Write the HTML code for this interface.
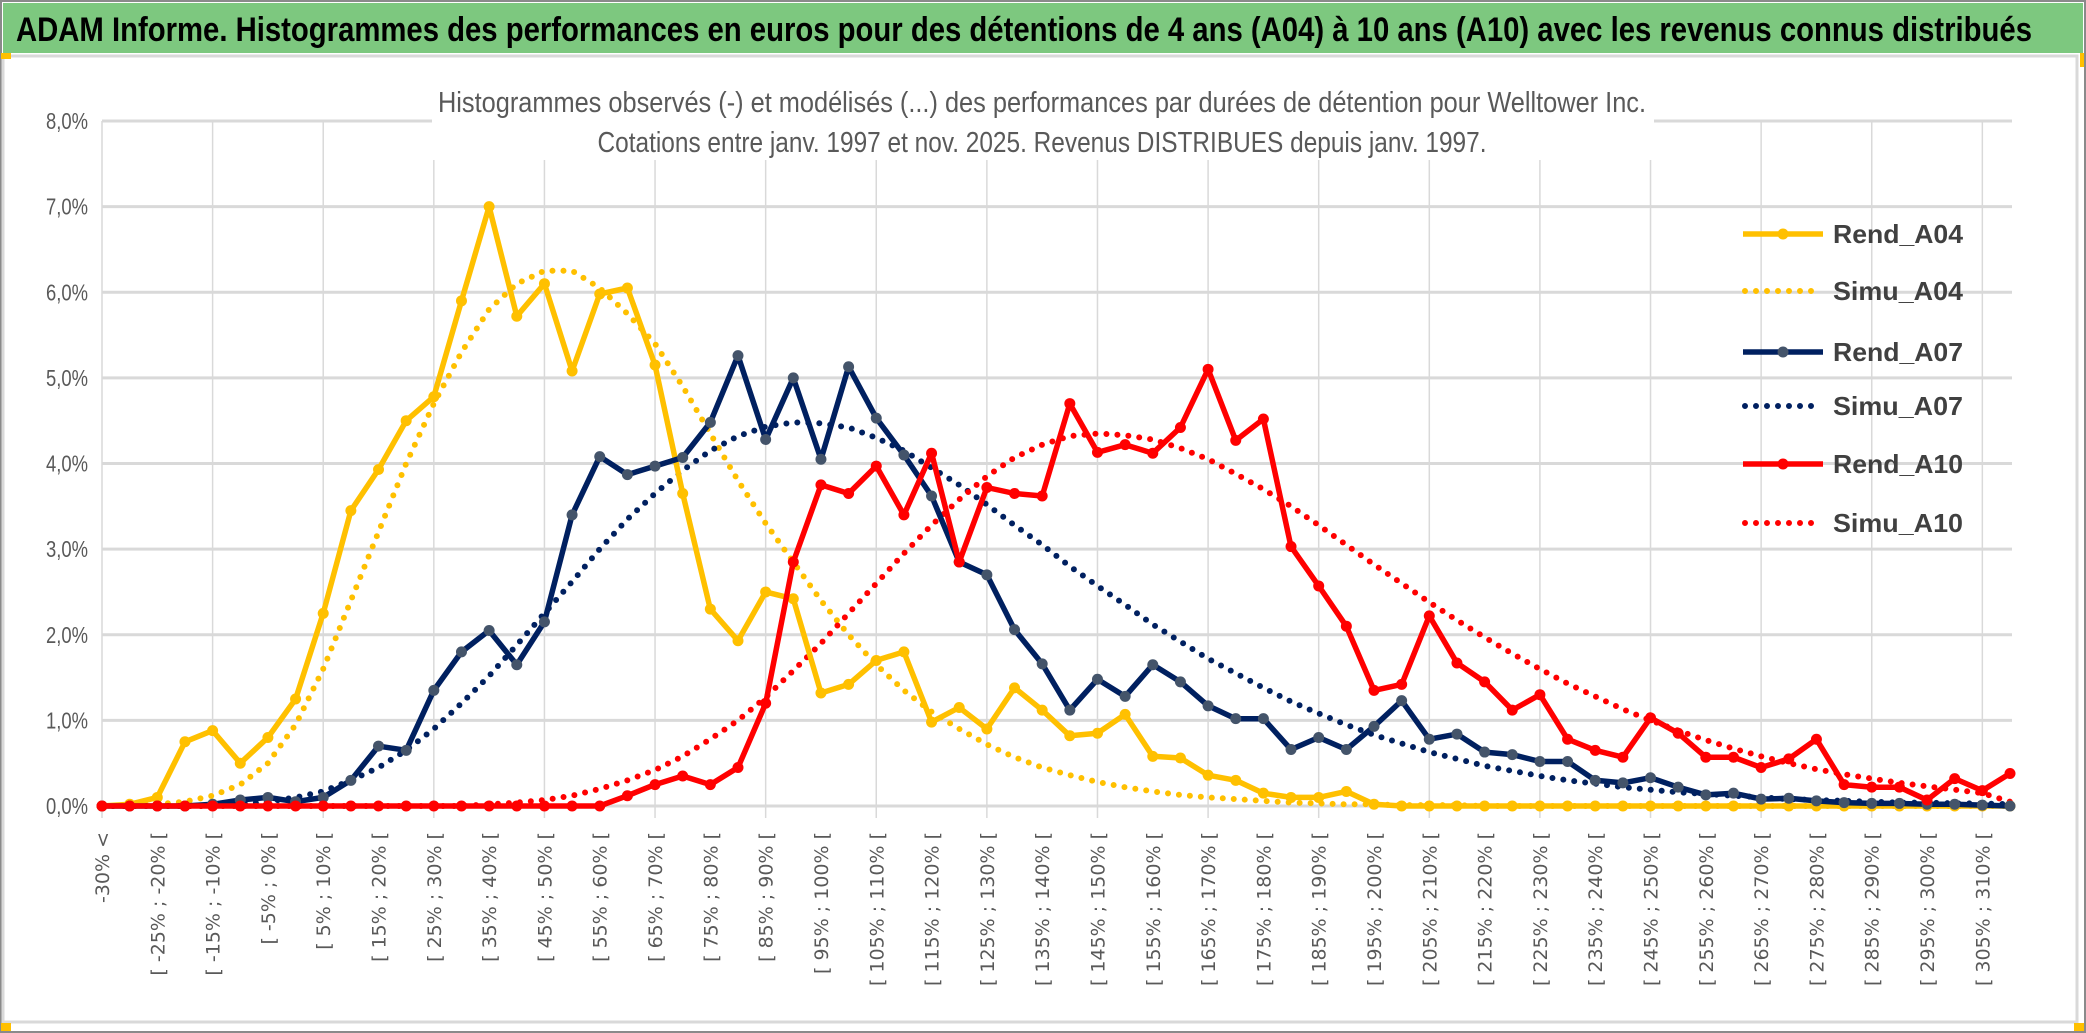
<!DOCTYPE html>
<html><head><meta charset="utf-8">
<style>
html,body{margin:0;padding:0;background:#fff;}
svg{display:block;}
</style></head>
<body>
<svg id="chart" width="2086" height="1033" viewBox="0 0 2086 1033" xmlns="http://www.w3.org/2000/svg">
  <rect x="0" y="0" width="2086" height="1033" fill="#fff"/>
  <rect x="1" y="1" width="2084" height="1031" fill="none" stroke="#8a8a8a" stroke-width="2"/>
  <rect x="3" y="3" width="2080" height="50" fill="#7DC87F"/>
  <text x="16" y="41" font-family="'Liberation Sans Narrow','Liberation Sans',sans-serif" font-weight="bold" font-size="34" fill="#000" textLength="2016" lengthAdjust="spacingAndGlyphs">ADAM Informe. Histogrammes des performances en euros pour des détentions de 4 ans (A04) à 10 ans (A10) avec les revenus connus distribués</text>
  <rect x="3" y="56" width="2074" height="966" fill="#fff" stroke="#d9d9d9" stroke-width="3"/>
  <rect x="1" y="53" width="10" height="6" fill="#FFC000"/>
  <rect x="1" y="1023" width="10" height="8" fill="#FFC000"/>
  <rect x="2074" y="1023" width="10" height="8" fill="#FFC000"/>
  <rect x="2080" y="53" width="4" height="14" fill="#FFC000"/>
  <g id="grid"></g>
  <g id="yaxis"></g>
  <g id="xaxis"></g>
  <rect x="432" y="76" width="1222" height="84" fill="#fff"/>
  <text x="1042" y="112" text-anchor="middle" font-family="'Liberation Sans Narrow','Liberation Sans',sans-serif" font-size="29" fill="#595959" textLength="1208" lengthAdjust="spacingAndGlyphs">Histogrammes observés (-) et modélisés (...) des performances par durées de détention pour Welltower Inc.</text>
  <text x="1042" y="152" text-anchor="middle" font-family="'Liberation Sans Narrow','Liberation Sans',sans-serif" font-size="29" fill="#595959" textLength="889" lengthAdjust="spacingAndGlyphs">Cotations entre janv. 1997 et nov. 2025. Revenus DISTRIBUES depuis janv. 1997.</text>
  <g id="series"></g>
  <g id="legend"></g>
</svg>
<script>
const rendA04 = [0,0.02,0.1,0.75,0.88,0.5,0.8,1.25,2.25,3.45,3.93,4.5,4.78,5.9,7.0,5.72,6.1,5.08,5.98,6.05,5.15,3.65,2.3,1.93,2.5,2.42,1.32,1.42,1.7,1.8,0.98,1.15,0.9,1.38,1.12,0.82,0.85,1.07,0.58,0.56,0.36,0.3,0.15,0.1,0.1,0.17,0.02,0,0,0,0,0,0,0,0,0,0,0,0,0,0,0,0,0,0,0,0,0,0,0];
const simuA04 = [0,0,0.02,0.05,0.12,0.25,0.5,0.95,1.6,2.4,3.2,4.0,4.7,5.3,5.8,6.1,6.25,6.25,6.05,5.75,5.4,4.9,4.35,3.8,3.3,2.85,2.4,2.0,1.65,1.35,1.1,0.9,0.72,0.57,0.45,0.36,0.28,0.22,0.17,0.13,0.1,0.08,0.06,0.04,0.03,0.02,0.02,0.01,0.01,0.01,0,0,0,0,0,0,0,0,0,0,0,0,0,0,0,0,0,0,0,0];
const rendA07 = [0,0,0,0,0.02,0.07,0.1,0.05,0.1,0.3,0.7,0.65,1.35,1.8,2.05,1.65,2.15,3.4,4.08,3.87,3.97,4.07,4.48,5.26,4.28,5.0,4.05,5.13,4.53,4.1,3.62,2.85,2.7,2.06,1.66,1.12,1.48,1.28,1.65,1.45,1.17,1.02,1.02,0.66,0.8,0.66,0.93,1.23,0.78,0.84,0.63,0.6,0.52,0.52,0.3,0.27,0.33,0.22,0.13,0.15,0.08,0.09,0.06,0.04,0.03,0.03,0.02,0.02,0.01,0];
const simuA07 = [0,0,0,0,0,0.02,0.05,0.1,0.17,0.3,0.45,0.65,0.9,1.2,1.52,1.88,2.25,2.62,3.0,3.35,3.65,3.92,4.15,4.32,4.43,4.48,4.47,4.42,4.3,4.15,3.95,3.75,3.52,3.28,3.05,2.8,2.57,2.35,2.12,1.92,1.72,1.55,1.38,1.22,1.08,0.95,0.83,0.73,0.63,0.55,0.47,0.41,0.35,0.3,0.26,0.22,0.19,0.16,0.14,0.12,0.1,0.08,0.07,0.06,0.05,0.04,0.04,0.03,0.03,0.02];
const rendA10 = [0,0,0,0,0,0,0,0,0,0,0,0,0,0,0,0,0,0,0,0.12,0.25,0.35,0.25,0.45,1.2,2.85,3.75,3.65,3.97,3.4,4.12,2.85,3.72,3.65,3.62,4.7,4.13,4.22,4.12,4.42,5.1,4.27,4.52,3.03,2.57,2.1,1.35,1.42,2.22,1.67,1.45,1.12,1.3,0.78,0.65,0.57,1.03,0.85,0.57,0.57,0.45,0.55,0.78,0.25,0.22,0.22,0.07,0.32,0.18,0.38];
const simuA10 = [0,0,0,0,0,0,0,0,0,0,0,0,0,0,0.02,0.04,0.07,0.12,0.2,0.3,0.42,0.58,0.78,1.0,1.27,1.58,1.9,2.25,2.6,2.95,3.28,3.58,3.85,4.07,4.22,4.32,4.35,4.33,4.28,4.18,4.05,3.88,3.7,3.5,3.28,3.05,2.82,2.6,2.38,2.17,1.97,1.78,1.6,1.43,1.28,1.13,1.0,0.88,0.77,0.67,0.58,0.5,0.43,0.37,0.32,0.27,0.23,0.19,0.15,0.05];
const yTicks = [0,1,2,3,4,5,6,7,8];
const yTickLabels = ["0,0%","1,0%","2,0%","3,0%","4,0%","5,0%","6,0%","7,0%","8,0%"];
const categories = ["-30% <"];
for (let lo = -30; lo < 315; lo += 5) categories.push("[ " + lo + "% ; " + (lo + 5) + "% [");

const NS = "http://www.w3.org/2000/svg";
const X0 = 102, X1 = 2010, Y0 = 806, Y8 = 121;
const step = (X1 - X0) / (categories.length - 1);
function xPos(i){ return X0 + i * step; }
function yPos(v){ return Y0 - (v / 8) * (Y0 - Y8); }
function mk(tag, attrs, parent){ const e = document.createElementNS(NS, tag); for (const k in attrs) e.setAttribute(k, attrs[k]); parent.appendChild(e); return e; }

const grid = document.getElementById('grid');
yTicks.forEach((t, k) => {
  const l = mk('line', {x1: X0, x2: X1 + 2, y1: yPos(t), y2: yPos(t), stroke: '#d9d9d9', 'stroke-width': 3}, grid);
  
  
});
for (let i = 0; i < categories.length; i += 4) {
  const l = mk('line', {x1: xPos(i), x2: xPos(i), y1: Y8, y2: Y0 + 12, stroke: '#d9d9d9', 'stroke-width': 1.5}, grid);
  
  
}
const yaxis = document.getElementById('yaxis');
yTicks.forEach((t, k) => {
  const tx = mk('text', {x: 88, y: yPos(t) + 8, 'text-anchor': 'end', 'font-family': "'Liberation Sans Narrow','Liberation Sans',sans-serif", 'font-size': 23, fill: '#595959', textLength: 42, lengthAdjust: 'spacingAndGlyphs'}, yaxis);
  tx.textContent = yTickLabels[k];
  
  
});
const xaxis = document.getElementById('xaxis');
categories.forEach((c, i) => {
  if (i % 2) return;
  const x = xPos(i) + 7, y = 832;
  const tx = mk('text', {x: x, y: y, transform: 'rotate(-90 ' + x + ' ' + y + ')', 'text-anchor': 'end', 'font-family': "'DejaVu Sans',sans-serif", 'font-size': 19, fill: '#595959'}, xaxis);
  tx.textContent = c;
  
  
});

const series = document.getElementById('series');
function pts(arr){ return arr.map((v, i) => xPos(i).toFixed(1) + ',' + yPos(v).toFixed(1)).join(' '); }
function dotted(arr, color, name){
  const p = mk('polyline', {points: pts(arr), fill: 'none', stroke: color, 'stroke-width': 6, 'stroke-linecap': 'round', 'stroke-dasharray': '0 11'}, series);
  
  
}
function solid(arr, color, mcolor, name){
  const g = mk('g', {}, series);
  
  
  const p = mk('polyline', {points: pts(arr), fill: 'none', stroke: color, 'stroke-width': 5.5, 'stroke-linejoin': 'round'}, g);
  
  
  arr.forEach((v, i) => {
    const c = mk('circle', {cx: xPos(i), cy: yPos(v), r: 5.5, fill: mcolor}, g);
    
    
  });
}
dotted(simuA04, '#FFC000', 'simu-a04');
dotted(simuA07, '#002060', 'simu-a07');
dotted(simuA10, '#FF0000', 'simu-a10');
solid(rendA04, '#FFC000', '#FFC000', 'rend-a04');
solid(rendA07, '#002060', '#44546A', 'rend-a07');
solid(rendA10, '#FF0000', '#FF0000', 'rend-a10');

const legend = document.getElementById('legend');
const legItems = [
  ['Rend_A04', '#FFC000', false, '#FFC000'],
  ['Simu_A04', '#FFC000', true],
  ['Rend_A07', '#002060', false, '#44546A'],
  ['Simu_A07', '#002060', true],
  ['Rend_A10', '#FF0000', false, '#FF0000'],
  ['Simu_A10', '#FF0000', true]
];
const legY = [234, 291, 352, 406, 464, 523];
legItems.forEach((it, k) => {
  const g = mk('g', {}, legend);
  
  
  const y = legY[k];
  if (it[2]) {
    mk('line', {x1: 1745, x2: 1822, y1: y, y2: y, stroke: it[1], 'stroke-width': 6, 'stroke-linecap': 'round', 'stroke-dasharray': '0 11'}, g);
  } else {
    mk('line', {x1: 1743, x2: 1823, y1: y, y2: y, stroke: it[1], 'stroke-width': 5.5}, g);
    mk('circle', {cx: 1783, cy: y, r: 5.5, fill: it[3]}, g);
  }
  const t = mk('text', {x: 1833, y: y + 9, 'font-family': "'Liberation Sans Narrow','Liberation Sans',sans-serif", 'font-size': 26, 'font-weight': 'bold', fill: '#404040', textLength: 130, lengthAdjust: 'spacingAndGlyphs'}, g);
  t.textContent = it[0];
  
  
});
</script>
</body></html>
